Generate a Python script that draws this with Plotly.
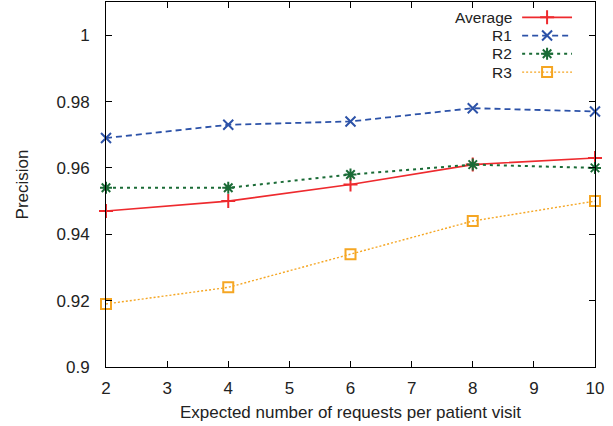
import plotly.graph_objects as go

x_vals = [2, 4, 6, 8, 10]
avg = [0.947, 0.950, 0.955, 0.961, 0.963]
r1 = [0.969, 0.973, 0.974, 0.978, 0.977]
r2 = [0.954, 0.954, 0.958, 0.961, 0.960]
r3 = [0.919, 0.924, 0.934, 0.944, 0.950]
names = ["Average", "R1", "R2", "R3"]

colors = ["#ee2a2e", "#2c52a8", "#1a6b36", "#f5a623"]
dashes = ["solid", "6px,4px", "3px,4px", "2px,2px"]
symbols = ["cross-thin", "x-thin", "asterisk", "square-open"]
widths = [1.6, 1.8, 2.0, 1.4]

FONT = "Arial"

fig = go.Figure()
for ys, n, c, d, s, w in zip([avg, r1, r2, r3], names, colors, dashes, symbols, widths):
    fig.add_trace(go.Scatter(
        x=x_vals, y=ys, name=n, mode="lines+markers",
        line=dict(color=c, dash=d, width=w),
        marker=dict(symbol=s, size=10, color=c, line=dict(color=c, width=2)),
        showlegend=False, cliponaxis=False,
    ))

# custom legend (text left of sample, gnuplot style) on an overlay axis
leg_y = [0.958, 0.908, 0.858, 0.808]
for n, c, d, s, w, ly in zip(names, colors, dashes, symbols, widths, leg_y):
    fig.add_trace(go.Scatter(
        x=[0.851, 0.953], y=[ly, ly], mode="lines", xaxis="x2", yaxis="y2",
        line=dict(color=c, dash=d, width=w), showlegend=False, hoverinfo="skip"))
    fig.add_trace(go.Scatter(
        x=[0.902], y=[ly], mode="markers", xaxis="x2", yaxis="y2",
        marker=dict(symbol=s, size=10, color=c, line=dict(color=c, width=2)),
        showlegend=False, hoverinfo="skip"))
    fig.add_annotation(x=0.832, y=ly, xref="x2", yref="y2", text=n, showarrow=False,
                       xanchor="right", yanchor="middle", borderpad=0,
                       font=dict(size=15.5, color="#222222", family=FONT))

axis_common = dict(showgrid=False, zeroline=False, showline=True, linecolor="black",
                   linewidth=1, mirror="ticks", ticks="inside", ticklen=6,
                   tickcolor="black", tickfont=dict(size=17, color="#222222", family=FONT))

fig.update_layout(
    width=613, height=426,
    margin=dict(l=106, r=18, t=2, b=59),
    plot_bgcolor="white", paper_bgcolor="white",
    font=dict(family=FONT, size=17, color="#222222"),
    xaxis=dict(range=[2, 10], dtick=1, tick0=2, ticklabelstandoff=6,
               title=dict(text="Expected number of requests per patient visit", standoff=8,
                          font=dict(size=17, family=FONT)),
               **axis_common),
    yaxis=dict(range=[0.9, 1.01], dtick=0.02, tick0=0.9, ticklabelstandoff=12,
               title=dict(text="Precision", standoff=23, font=dict(size=17, family=FONT)),
               **axis_common),
    xaxis2=dict(overlaying="x", range=[0, 1], visible=False),
    yaxis2=dict(overlaying="y", range=[0, 1], visible=False),
)

fig.write_html("out.html")
